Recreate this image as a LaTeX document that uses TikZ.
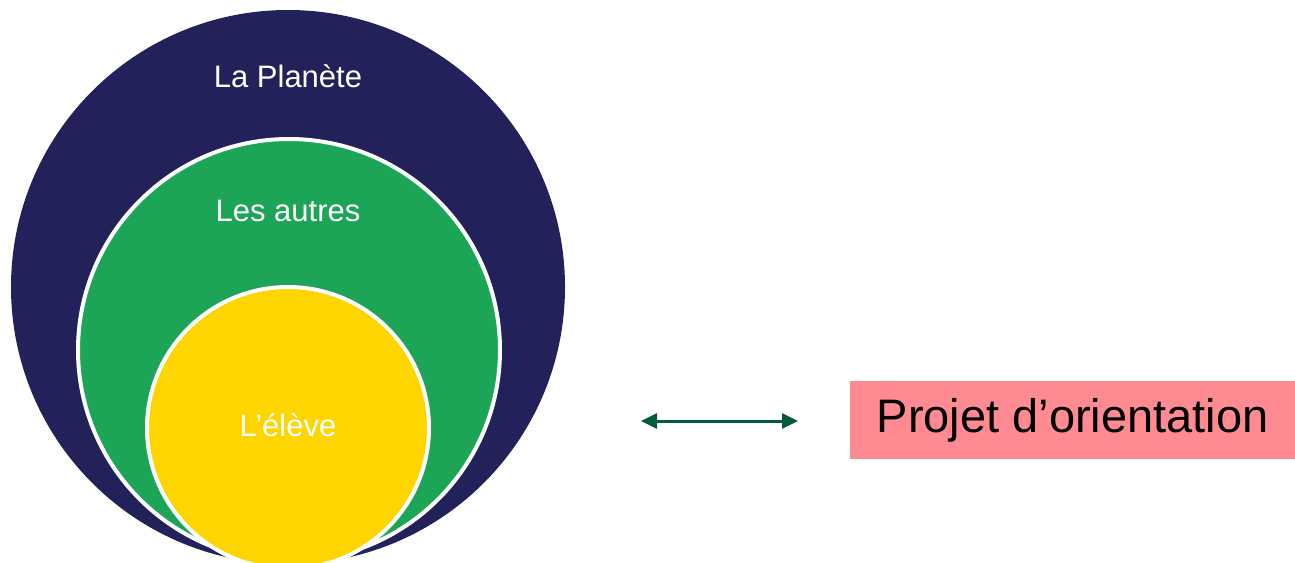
\documentclass[tikz,border=0pt]{standalone}
\usepackage{fontspec}
\setmainfont{Liberation Sans}
\usetikzlibrary{arrows.meta}
\definecolor{navy}{HTML}{22215A}
\definecolor{cgreen}{HTML}{1CA556}
\definecolor{cyellow}{HTML}{FFD500}
\definecolor{cpink}{HTML}{FF8A92}
\definecolor{carrow}{HTML}{005C3B}
\tikzset{
  ring/.style={circle, inner sep=0pt, outer sep=0pt},
  lbl/.style={text=white, font=\fontsize{31}{36}\selectfont, inner sep=0pt},
}
\begin{document}
\begin{tikzpicture}[x=1pt,y=-1pt]
\useasboundingbox (0,0) rectangle (1295,562);
\begin{scope}
\clip (0,0) rectangle (1295,562);
\node[ring, fill=navy, minimum size=554] (planet) at (288,287) {};
\node[ring, fill=cgreen, draw=white, line width=4, minimum size=422] (autres) at (289,350) {};
\node[ring, fill=cyellow, draw=white, line width=4, minimum size=282] (eleve) at (288,428) {};
\end{scope}
\node[lbl] (tp) at (288,76) {La Planète};
\node[lbl] (ta) at (288,211) {Les autres};
\node[lbl] (te) at (288,425) {L’élève};
\node[fill=cpink, minimum width=445, minimum height=78, inner sep=0pt, anchor=north west,
      font=\fontsize{47}{54}\selectfont] (projet) at (850,381) {Projet d’orientation};
\coordinate (aL) at (641,421);
\coordinate (aR) at (798,421);
\draw[carrow, line width=3, {Triangle[length=16, width=15]}-{Triangle[length=16, width=15]}] (aL) -- (aR);
\end{tikzpicture}
\end{document}
